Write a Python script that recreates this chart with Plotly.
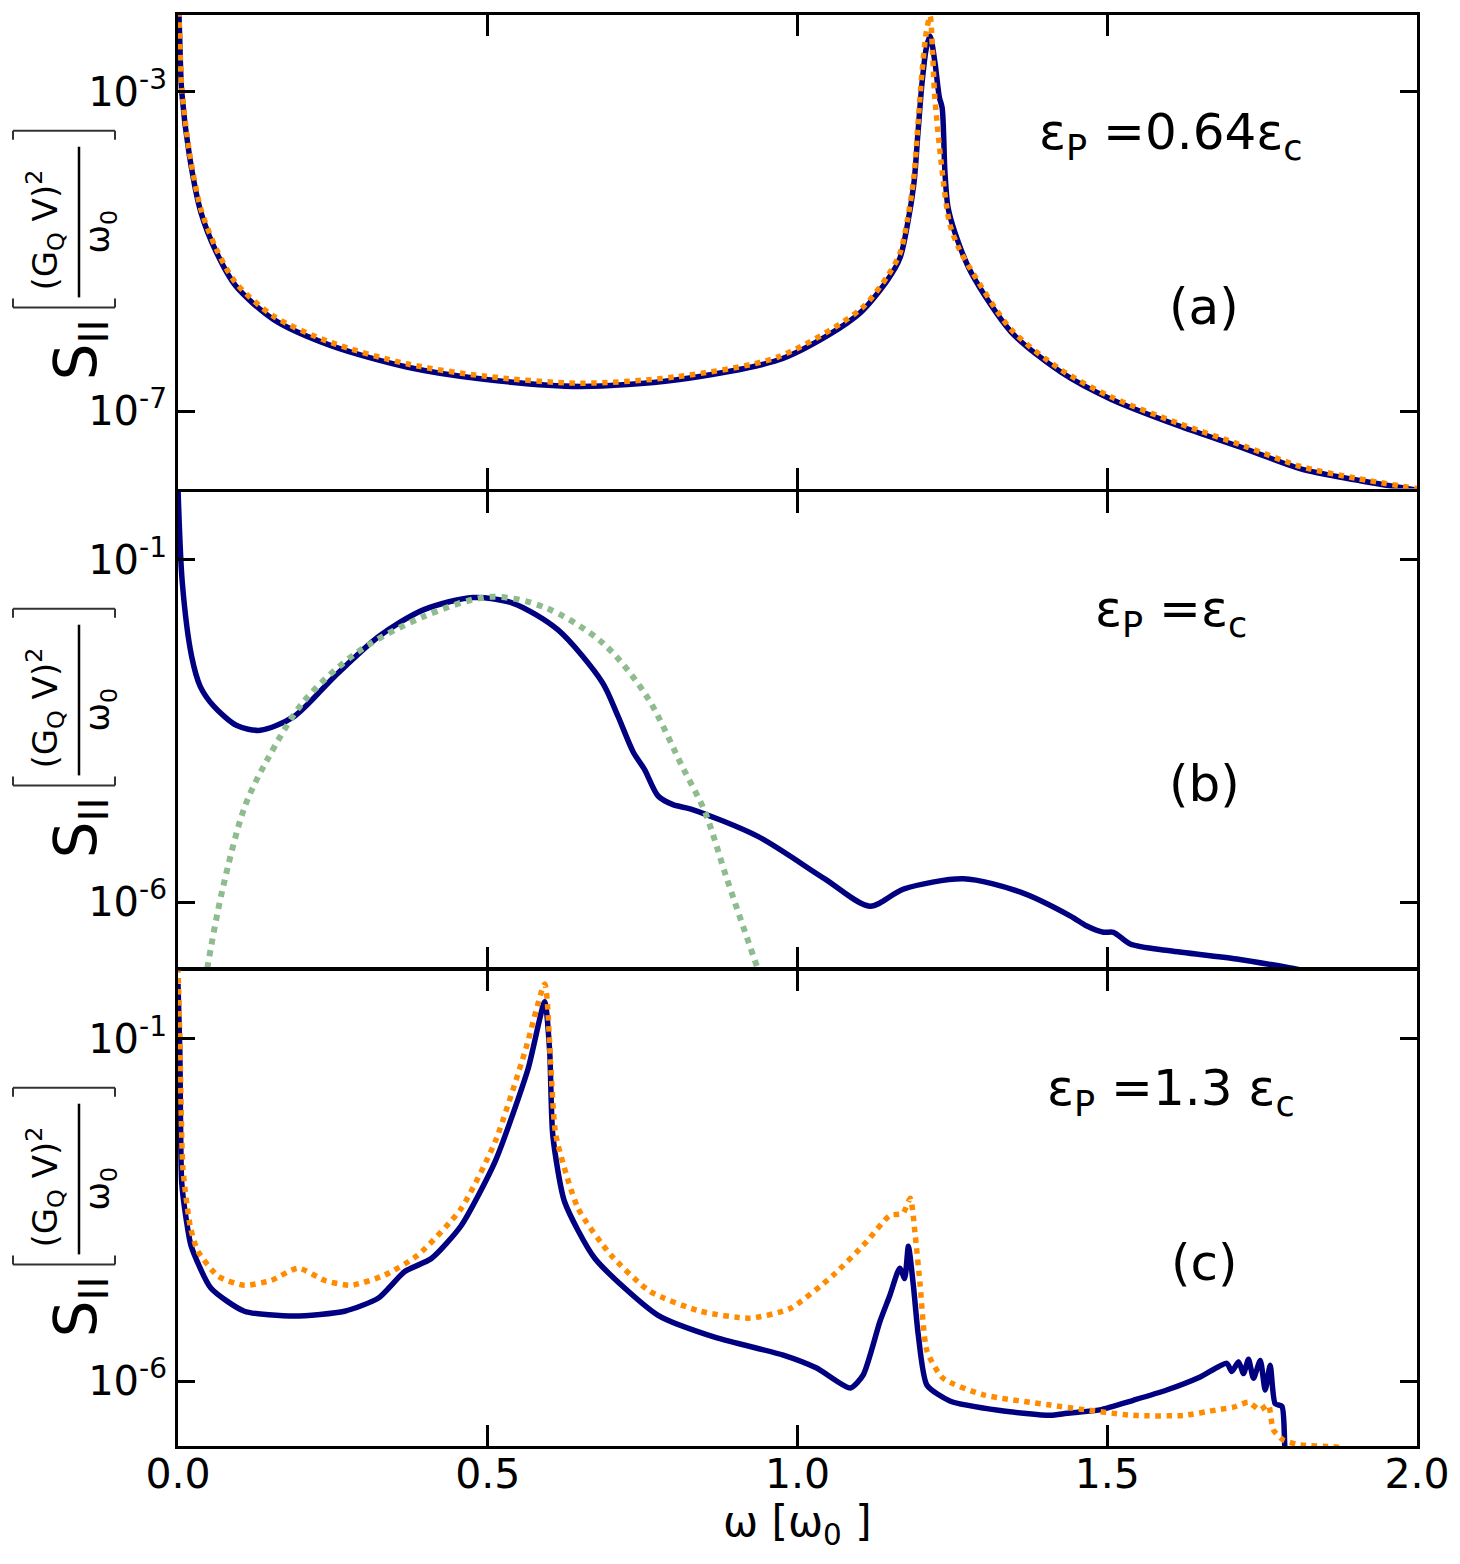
import plotly.graph_objects as go
from plotly.subplots import make_subplots

# ---------------- data ----------------
# panel (a): eps_P = 0.64 eps_c
w_a_solid = [0.001, 0.003, 0.006, 0.0185, 0.037, 0.062, 0.093, 0.154, 0.247, 0.371,
             0.494, 0.649, 0.803, 0.969, 1.049, 1.1025, 1.146, 1.1655, 1.178, 1.188,
             1.1945, 1.201, 1.208, 1.214, 1.222, 1.229, 1.2335, 1.238, 1.243, 1.254,
             1.280, 1.345, 1.425, 1.506, 1.614, 1.722, 1.811, 1.90, 2.0]
S_a_solid = [1.26e-2, 3.98e-3, 1.0e-3, 1.58e-4, 3.09e-5, 9.77e-6, 3.72e-6, 1.41e-6, 6.61e-7, 3.55e-7,
             2.51e-7, 2.04e-7, 2.45e-7, 4.37e-7, 8.91e-7, 1.74e-6, 4.47e-6, 8.32e-6, 2.29e-5, 7.24e-5,
             3.09e-4, 1.29e-3, 3.55e-3, 5.01e-3, 2.29e-3, 8.51e-4, 6.31e-4, 9.77e-5, 3.55e-5, 1.74e-5,
             5.50e-6, 9.77e-7, 3.09e-7, 1.41e-7, 6.61e-8, 3.39e-8, 1.91e-8, 1.38e-8, 1.02e-8]

w_a_dot = [0.001, 0.003, 0.006, 0.0185, 0.037, 0.062, 0.093, 0.154, 0.247, 0.371,
           0.494, 0.649, 0.803, 0.969, 1.1025, 1.146, 1.1655, 1.178, 1.188, 1.1945,
           1.201, 1.208, 1.214, 1.218, 1.2215, 1.232, 1.2456, 1.26, 1.280, 1.345,
           1.425, 1.506, 1.614, 1.722, 1.811, 1.90, 2.0]
S_a_dot = [1.41e-2, 4.47e-3, 1.12e-3, 1.74e-4, 3.39e-5, 1.07e-5, 4.07e-6, 1.55e-6, 7.24e-7, 3.89e-7,
           2.75e-7, 2.24e-7, 2.69e-7, 4.79e-7, 1.91e-6, 5.01e-6, 9.55e-6, 2.63e-5, 8.91e-5, 3.98e-4,
           1.78e-3, 5.62e-3, 8.91e-3, 3.16e-3, 8.91e-4, 1.29e-4, 2.24e-5, 1.12e-5, 5.89e-6, 1.05e-6,
           3.31e-7, 1.51e-7, 7.08e-8, 3.63e-8, 2.04e-8, 1.45e-8, 1.07e-8]

# panel (b): eps_P = eps_c
w_b_solid = [0.0, 0.007, 0.022, 0.036, 0.058, 0.095, 0.133, 0.187, 0.252, 0.324,
             0.396, 0.476, 0.540, 0.613, 0.685, 0.71, 0.735, 0.753, 0.775, 0.800,
             0.828, 0.936, 1.044, 1.117, 1.171, 1.268, 1.359, 1.440, 1.467, 1.494,
             1.510, 1.537, 1.601, 1.709, 1.806, 2.0]
S_b_solid = [1.12, 4.57e-2, 3.89e-3, 1.41e-3, 7.24e-4, 3.80e-4, 3.24e-4, 5.13e-4, 1.95e-3, 7.59e-3,
             1.86e-2, 2.82e-2, 2.34e-2, 9.55e-3, 1.62e-3, 5.25e-4, 1.55e-4, 8.71e-5, 3.55e-5, 2.63e-5,
             2.29e-5, 9.12e-6, 2.19e-6, 8.71e-7, 1.55e-6, 2.19e-6, 1.41e-6, 6.31e-7, 4.47e-7, 3.63e-7,
             3.63e-7, 2.45e-7, 1.95e-7, 1.48e-7, 1.05e-7, 5.01e-8]

w_b_gauss = [0.03, 0.047, 0.072, 0.108, 0.144, 0.202, 0.288, 0.396, 0.504, 0.591,
             0.685, 0.757, 0.814, 0.851, 0.886, 0.936, 0.96]
S_b_gauss = [1.0e-8, 1.05e-7, 1.55e-6, 2.51e-5, 1.20e-4, 8.32e-4, 4.37e-3, 1.48e-2, 2.88e-2, 2.04e-2,
             6.17e-3, 1.0e-3, 9.55e-5, 2.04e-5, 2.19e-6, 1.05e-7, 2.51e-8]

# panel (c): eps_P = 1.3 eps_c
w_c_solid = [0.0, 0.003, 0.006, 0.0135, 0.021, 0.053, 0.107, 0.188, 0.269, 0.323,
             0.366, 0.409, 0.457, 0.512, 0.565, 0.592, 0.600, 0.605, 0.624, 0.673,
             0.775, 0.870, 0.977, 1.031, 1.085, 1.106, 1.133, 1.149, 1.165, 1.173,
             1.179, 1.187, 1.195, 1.209, 1.246, 1.327, 1.408, 1.435, 1.488, 1.542,
             1.596, 1.650, 1.693, 1.701, 1.712, 1.720, 1.728, 1.736, 1.747, 1.755,
             1.763, 1.771, 1.782, 1.787, 1.80]
S_c_solid = [6.31e-1, 6.31e-2, 7.94e-4, 2.24e-4, 9.55e-5, 2.29e-5, 1.05e-5, 8.91e-6, 1.05e-5, 1.62e-5,
             3.98e-5, 6.17e-5, 1.86e-4, 1.62e-3, 3.63e-2, 3.47e-1, 6.46e-2, 3.89e-3, 4.17e-4, 6.17e-5,
             9.12e-6, 4.27e-6, 2.40e-6, 1.55e-6, 7.94e-7, 1.23e-6, 7.41e-6, 1.78e-5, 4.47e-5, 3.16e-5,
             9.33e-5, 2.51e-5, 4.68e-6, 8.71e-7, 5.13e-7, 3.72e-7, 3.16e-7, 3.39e-7, 3.80e-7, 5.25e-7,
             7.41e-7, 1.15e-6, 1.82e-6, 1.38e-6, 1.91e-6, 1.29e-6, 2.09e-6, 1.10e-6, 2.00e-6, 7.41e-7,
             1.70e-6, 4.68e-7, 4.27e-7, 1.0e-7, 1.58e-8]

w_c_dot = [0.0, 0.003, 0.008, 0.02, 0.032, 0.065, 0.107, 0.150, 0.194, 0.237,
           0.279, 0.334, 0.387, 0.457, 0.512, 0.560, 0.592, 0.602, 0.610, 0.646,
           0.699, 0.762, 0.843, 0.923, 0.988, 1.058, 1.112, 1.149, 1.170, 1.182,
           1.190, 1.198, 1.209, 1.235, 1.300, 1.408, 1.542, 1.623, 1.677, 1.704,
           1.728, 1.746, 1.760, 1.768, 1.784, 1.811, 1.865, 1.892, 2.0]
S_c_dot = [1.12, 1.10e-1, 1.26e-3, 1.78e-4, 7.94e-5, 3.39e-5, 2.51e-5, 2.95e-5, 4.47e-5, 2.95e-5,
           2.51e-5, 3.55e-5, 6.92e-5, 3.31e-4, 3.16e-3, 6.46e-2, 6.31e-1, 3.63e-2, 3.89e-3, 3.31e-4,
           6.92e-5, 2.04e-5, 1.05e-5, 8.32e-6, 1.15e-5, 3.55e-5, 1.10e-4, 2.63e-4, 2.82e-4, 4.68e-4,
           1.35e-4, 2.51e-5, 2.75e-6, 1.10e-6, 6.31e-7, 4.47e-7, 3.16e-7, 3.16e-7, 3.80e-7, 4.17e-7,
           4.90e-7, 3.80e-7, 4.47e-7, 1.95e-7, 1.38e-7, 1.17e-7, 1.10e-7, 1.0e-7, 6.31e-8]

x_ticks = [0.0, 0.5, 1.0, 1.5, 2.0]
x_ticktext = ["0.0", "0.5", "1.0", "1.5", "2.0"]
y_ticks = [[1e-3, 1e-7], [1e-1, 1e-6], [1e-1, 1e-6]]
y_ticktext = [["10<sup>-3</sup>", "10<sup>-7</sup>"],
              ["10<sup>-1</sup>", "10<sup>-6</sup>"],
              ["10<sup>-1</sup>", "10<sup>-6</sup>"]]
y_ranges = [[-7.969, -2.0375], [-6.955, -0.0015], [-6.948, -0.0015]]
panel_labels = ["ε<sub>P</sub> =0.64ε<sub>c</sub>", "ε<sub>P</sub> =ε<sub>c</sub>",
                "ε<sub>P</sub> =1.3 ε<sub>c</sub>"]
panel_tags = ["(a)", "(b)", "(c)"]

NAVY = "#000080"
ORANGE = "#ff8c00"
GREEN = "#8fbc8f"
FONT = "DejaVu Sans"

fig = make_subplots(rows=3, cols=1, shared_xaxes=True, vertical_spacing=0,
                    row_heights=[478, 480, 480])

# panel a
fig.add_trace(go.Scatter(x=w_a_solid, y=S_a_solid, mode="lines",
                         line=dict(color=NAVY, width=5.5, shape="spline", smoothing=0.8)), row=1, col=1)
fig.add_trace(go.Scatter(x=w_a_dot, y=S_a_dot, mode="lines",
                         line=dict(color=ORANGE, width=5.5, dash="dot", shape="spline", smoothing=0.8)),
              row=1, col=1)
# panel b
fig.add_trace(go.Scatter(x=w_b_solid, y=S_b_solid, mode="lines",
                         line=dict(color=NAVY, width=5.5, shape="spline", smoothing=0.8)), row=2, col=1)
fig.add_trace(go.Scatter(x=w_b_gauss, y=S_b_gauss, mode="lines",
                         line=dict(color=GREEN, width=6, dash="dot", shape="spline", smoothing=0.9)),
              row=2, col=1)
# panel c
fig.add_trace(go.Scatter(x=w_c_solid, y=S_c_solid, mode="lines",
                         line=dict(color=NAVY, width=5.5, shape="spline", smoothing=0.6)), row=3, col=1)
fig.add_trace(go.Scatter(x=w_c_dot, y=S_c_dot, mode="lines",
                         line=dict(color=ORANGE, width=5.5, dash="dot", shape="spline", smoothing=0.6)),
              row=3, col=1)

# screen rows of each panel (plot area), page body adds 8px offset
tops = [12, 489.5, 969.5]
bottoms = [486.5, 966.5, 1446]
PLOT_TOP, PLOT_BOT = 12, 1446
span = PLOT_BOT - PLOT_TOP
domains = [[(PLOT_BOT - b) / span, (PLOT_BOT - t) / span] for t, b in zip(tops, bottoms)]

for i in range(3):
    fig.update_xaxes(range=[0, 2], tickvals=x_ticks, ticktext=x_ticktext,
                     showticklabels=(i == 2), ticks="inside", ticklen=21, tickwidth=3,
                     tickcolor="black", showline=True, linewidth=3, linecolor="black",
                     mirror="ticks", showgrid=False, zeroline=False,
                     ticklabelstandoff=-10,
                     tickfont=dict(family=FONT, size=41, color="black"),
                     row=i + 1, col=1)
    fig.update_yaxes(type="log", range=y_ranges[i], tickvals=y_ticks[i], ticktext=y_ticktext[i],
                     domain=domains[i],
                     ticks="inside", ticklen=17, tickwidth=3, tickcolor="black",
                     showline=True, linewidth=3, linecolor="black", mirror="ticks",
                     showgrid=False, zeroline=False,
                     tickfont=dict(family=FONT, size=40, color="black"),
                     row=i + 1, col=1)

# ---------------- text and y-label pieces ----------------
axn = ["", "2", "3"]


def dx(px):
    return (px - 178) / 1239


def txt(x, y, xr, yr, text, size, angle=0):
    return dict(x=x, y=y, xref=xr, yref=yr, text=text, showarrow=False,
                xanchor="center", yanchor="middle", textangle=angle,
                font=dict(family=FONT, size=size, color="black"))


ref_tops = [10, 488, 968]
ref_heights = [478, 480, 480]
annotations = []
shapes = []
for i in range(3):
    top, h = tops[i], bottoms[i] - tops[i]
    xr, yr = "x" + axn[i] + " domain", "y" + axn[i] + " domain"
    rt = ref_tops[i]
    cy = rt + ref_heights[i] / 2

    def dy(py):
        return 1 - (py - top) / h

    annotations.append(txt(dx(1171), dy(rt + 123), xr, yr, panel_labels[i], 50))
    annotations.append(txt(dx(1204), dy(rt + 295), xr, yr, panel_tags[i], 50))
    # S_II [ (G_Q V)^2 / w_0 ]
    annotations.append(txt(dx(80), dy(cy + 98), xr, yr, "S<sub>II</sub>", 58, -90))
    annotations.append(txt(dx(45), dy(cy - 21), xr, yr, "(G<sub>Q</sub> V)<sup>2</sup>", 34, -90))
    annotations.append(txt(dx(100), dy(cy - 20), xr, yr, "ω<sub>0</sub>", 34, -90))
    segs = [(79, cy - 105, 79, cy + 46),
            (13, cy + 56, 115, cy + 56), (13, cy + 56, 13, cy + 47), (115, cy + 56, 115, cy + 47),
            (13, cy - 121, 115, cy - 121), (13, cy - 121, 13, cy - 112), (115, cy - 121, 115, cy - 112)]
    for k, (x0, y0, x1, y1) in enumerate(segs):
        shapes.append(dict(type="line", xref=xr, yref=yr,
                           x0=dx(x0), y0=dy(y0), x1=dx(x1), y1=dy(y1),
                           line=dict(color="black" if k == 0 else "#333333",
                                     width=2.5 if k == 0 else 2)))

annotations.append(txt(0.5, -(1525 - PLOT_BOT) / span, "paper", "paper", "ω [ω<sub>0</sub> ]", 42))

fig.update_layout(
    width=1452,
    height=1556,
    margin=dict(l=170, r=43, t=PLOT_TOP - 8, b=1556 - (PLOT_BOT - 8)),
    paper_bgcolor="white",
    plot_bgcolor="white",
    showlegend=False,
    font=dict(family=FONT, color="black"),
    annotations=annotations,
    shapes=shapes,
)

fig.write_html("out.html")
